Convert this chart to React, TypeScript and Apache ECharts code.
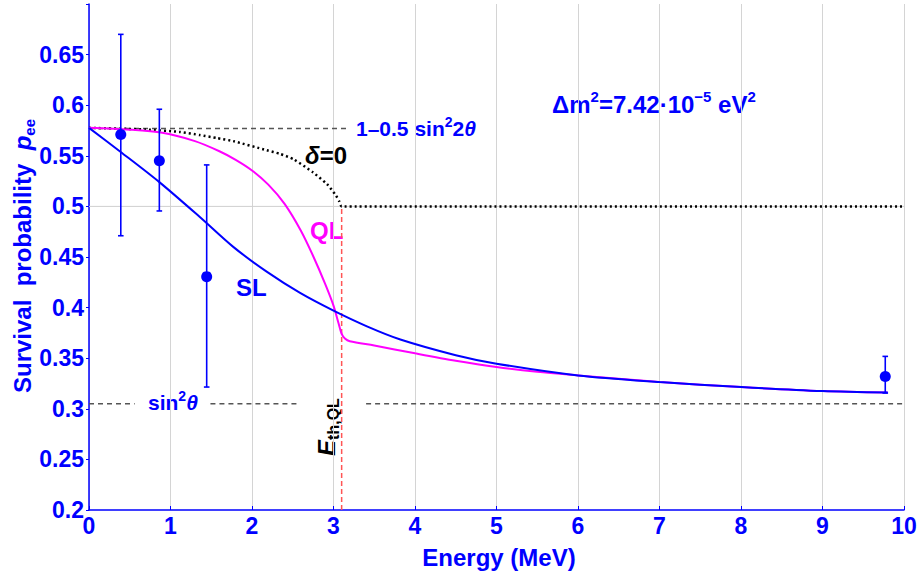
import React, { useEffect, useRef } from "react";
import * as echarts from "echarts";

// ---- data ----
const slE = [0, 0.389, 0.863, 1.36, 1.77, 2.18, 2.59, 3.0, 3.41, 3.82, 4.5, 5.0, 6.0, 7.0, 8.0, 9.0, 9.8];
const slP = [0.5776, 0.5538, 0.524, 0.4895, 0.46, 0.4355, 0.4145, 0.397, 0.3815, 0.3685, 0.353, 0.3446, 0.333, 0.3265, 0.3215, 0.3175, 0.316];

const qlE = [0, 0.5, 0.9, 1.3, 1.6, 1.8, 2.0, 2.2, 2.4, 2.6, 2.75, 2.9, 3.0, 3.06, 3.1, 3.14, 3.2, 3.5, 4.0, 4.5, 5.0, 5.5, 6.0, 7.0, 8.0, 9.0, 9.8];
const qlP = [0.5776, 0.5758, 0.5727, 0.5645, 0.5545, 0.546, 0.5355, 0.5215, 0.5025, 0.476, 0.451, 0.423, 0.402, 0.385, 0.374, 0.3695, 0.3668, 0.3625, 0.3548, 0.3475, 0.3413, 0.3365, 0.333, 0.3265, 0.3215, 0.3175, 0.316];

const d0E = [0, 0.7, 1.12, 1.36, 1.57, 1.77, 2.18, 2.34, 2.51, 2.75, 2.92, 3.02, 3.07, 3.1, 10];
const d0P = [0.5776, 0.576, 0.5735, 0.5705, 0.5675, 0.5645, 0.5555, 0.552, 0.5466, 0.5335, 0.522, 0.512, 0.505, 0.5, 0.5];

const ptE = [0.39, 0.863, 1.444, 9.77];
const ptP = [0.571, 0.545, 0.4306, 0.332];
const ptLo = [0.471, 0.4955, 0.3215, 0.3156];
const ptHi = [0.67, 0.596, 0.541, 0.3518];

const upperLevel = 0.577; // 1-0.5 sin^2 2θ
const upperSpan = [0, 3.2];
const lowerLevel = 0.305; // sin^2 θ
const lowerSpans = [[0, 0.56], [1.49, 2.56], [3.4, 10]];
const eth = 3.1;
const midLevel = 0.5;

const xTicks = [0, 10, 1];
const yTicks = [0.2, 0.7, 0.05];

const BLUE = "#0000ff";
const MAG = "#ff00ff";
const FONT = "'Liberation Sans', Arial, sans-serif";

const pairs = (xs: number[], ys: number[]) => xs.map((x, i) => [x, ys[i]]);

export default function App() {
  const ref = useRef<HTMLDivElement>(null);
  useEffect(() => {
    if (!ref.current) return;
    const chart = echarts.init(ref.current, null, { renderer: "svg" });
    const gray = { color: "#555555", width: 1.5, type: [5, 4] as any };
    const series: any[] = [
      {
        type: "line", data: [[0, midLevel], [10, midLevel]], symbol: "none", silent: true,
        lineStyle: { color: "#cfcfcf", width: 1 }, z: 1,
      },
      {
        type: "line", data: upperSpan.map((x) => [x, upperLevel]), symbol: "none", silent: true,
        lineStyle: gray, z: 2,
      },
      ...lowerSpans.map((s) => ({
        type: "line", data: s.map((x) => [x, lowerLevel]), symbol: "none", silent: true,
        lineStyle: gray, z: 2,
      })),
      {
        type: "line", data: [[eth, yTicks[0]], [eth, midLevel]], symbol: "none", silent: true,
        lineStyle: { color: "#ff5555", width: 1.5, type: [5, 3] }, z: 2,
      },
      {
        type: "line", data: pairs(d0E, d0P), symbol: "none", silent: true, smooth: 0.2,
        lineStyle: { color: "#000000", width: 2.5, type: [2, 3] }, z: 3,
      },
      {
        type: "line", data: pairs(qlE, qlP), symbol: "none", silent: true, smooth: 0.3,
        lineStyle: { color: MAG, width: 2 }, z: 4,
      },
      {
        type: "line", data: pairs(slE, slP), symbol: "none", silent: true, smooth: 0.3,
        lineStyle: { color: BLUE, width: 2 }, z: 5,
      },
      {
        type: "custom",
        data: ptE.map((x, i) => [x, ptLo[i], ptHi[i]]),
        encode: { x: 0, y: [1, 2] },
        z: 6,
        silent: true,
        renderItem: (params: any, api: any) => {
          const x = api.value(0);
          const lo = api.coord([x, api.value(1)]);
          const hi = api.coord([x, api.value(2)]);
          const st = { stroke: BLUE, lineWidth: 1.6 };
          const c = 2.8;
          return {
            type: "group",
            children: [
              { type: "line", shape: { x1: lo[0], y1: lo[1], x2: hi[0], y2: hi[1] }, style: st },
              { type: "line", shape: { x1: lo[0] - c, y1: lo[1], x2: lo[0] + c, y2: lo[1] }, style: st },
              { type: "line", shape: { x1: hi[0] - c, y1: hi[1], x2: hi[0] + c, y2: hi[1] }, style: st },
            ],
          };
        },
      },
      {
        type: "scatter", data: pairs(ptE, ptP), symbol: "circle", symbolSize: 11, silent: true,
        itemStyle: { color: BLUE, opacity: 1 }, z: 7,
      },
    ];

    const tickLabel = { color: BLUE, fontFamily: FONT, fontWeight: "bold" as const, fontSize: 23 };

    chart.setOption({
      animation: false,
      grid: { left: 89, right: 16, top: 4, bottom: 67, containLabel: false },
      xAxis: {
        type: "value", min: xTicks[0], max: xTicks[1], interval: xTicks[2],
        axisLine: { lineStyle: { color: BLUE, width: 1.5 } },
        axisTick: { show: true, inside: true, length: 4, lineStyle: { color: BLUE } },
        axisLabel: { ...tickLabel, margin: 4 },
        splitLine: { show: true, lineStyle: { color: "#d4d4d4", width: 1 } },
      },
      yAxis: {
        type: "value", min: yTicks[0], max: yTicks[1], interval: yTicks[2],
        axisLine: { show: true, lineStyle: { color: BLUE, width: 1.5 } },
        axisTick: { show: true, inside: false, length: 3, lineStyle: { color: BLUE } },
        axisLabel: {
          ...tickLabel, margin: 5,
          formatter: (v: number) => (Math.abs(v - yTicks[1]) < 1e-9 ? "" : String(+v.toFixed(2))),
        },
        splitLine: { show: false },
      },
      series,
      graphic: [
        {
          type: "text", x: 22, y: 256, rotation: Math.PI / 2,
          style: {
            text: "{m|Survival  probability  }{i|p}{s|ee}",
            align: "center", verticalAlign: "middle",
            rich: {
              m: { fill: BLUE, color: BLUE, fontFamily: FONT, fontWeight: "bold", fontSize: 24, lineHeight: 30 },
              i: { fill: BLUE, color: BLUE, fontFamily: FONT, fontWeight: "bold", fontStyle: "italic", fontSize: 24, lineHeight: 30 },
              s: { fill: BLUE, color: BLUE, fontFamily: FONT, fontWeight: "bold", fontSize: 15, lineHeight: 15, verticalAlign: "bottom" },
            },
          },
        },
        {
          type: "text", x: 499, y: 557,
          style: {
            text: "Energy (MeV)", fill: BLUE, font: `bold 24px ${FONT}`,
            align: "center", verticalAlign: "middle",
          },
        },
        {
          type: "text", x: 356, y: 128,
          style: {
            text: "{m|1–0.5 sin}{s|2}{m|2}{i|θ}",
            align: "left", verticalAlign: "middle",
            rich: {
              m: { fill: BLUE, color: BLUE, fontFamily: FONT, fontWeight: "bold", fontSize: 21, lineHeight: 26 },
              i: { fill: BLUE, color: BLUE, fontFamily: FONT, fontWeight: "bold", fontStyle: "italic", fontSize: 21, lineHeight: 26 },
              s: { fill: BLUE, color: BLUE, fontFamily: FONT, fontWeight: "bold", fontSize: 14, lineHeight: 14, verticalAlign: "top" },
            },
          },
        },
        {
          type: "text", x: 305, y: 155,
          style: {
            text: "{i|δ}{m|=0}",
            align: "left", verticalAlign: "middle",
            rich: {
              m: { fill: "#000", color: "#000", fontFamily: FONT, fontWeight: "bold", fontSize: 24, lineHeight: 28 },
              i: { fill: "#000", color: "#000", fontFamily: FONT, fontWeight: "bold", fontStyle: "italic", fontSize: 24, lineHeight: 28 },
            },
          },
        },
        {
          type: "text", x: 310, y: 230,
          style: { text: "QL", fill: MAG, font: `bold 24px ${FONT}`, align: "left", verticalAlign: "middle" },
        },
        {
          type: "text", x: 236, y: 287,
          style: { text: "SL", fill: BLUE, font: `bold 24px ${FONT}`, align: "left", verticalAlign: "middle" },
        },
        {
          type: "text", x: 552, y: 104,
          style: {
            text: "{m|Δm}{s|2}{m|=7.42·10}{s|−5}{m| eV}{s|2}",
            align: "left", verticalAlign: "middle",
            rich: {
              m: { fill: BLUE, color: BLUE, fontFamily: FONT, fontWeight: "bold", fontSize: 24, lineHeight: 30 },
              s: { fill: BLUE, color: BLUE, fontFamily: FONT, fontWeight: "bold", fontSize: 15, lineHeight: 15, verticalAlign: "top" },
            },
          },
        },
        {
          type: "text", x: 148, y: 402,
          style: {
            text: "{m|sin}{s|2}{i|θ}",
            align: "left", verticalAlign: "middle",
            rich: {
              m: { fill: BLUE, color: BLUE, fontFamily: FONT, fontWeight: "bold", fontSize: 21, lineHeight: 26 },
              i: { fill: BLUE, color: BLUE, fontFamily: FONT, fontWeight: "bold", fontStyle: "italic", fontSize: 21, lineHeight: 26 },
              s: { fill: BLUE, color: BLUE, fontFamily: FONT, fontWeight: "bold", fontSize: 14, lineHeight: 14, verticalAlign: "top" },
            },
          },
        },
        {
          type: "text", x: 326, y: 427, rotation: Math.PI / 2,
          style: {
            text: "{i|E}{s|th,QL}",
            align: "center", verticalAlign: "middle",
            rich: {
              i: { fill: "#000", color: "#000", fontFamily: FONT, fontWeight: "bold", fontStyle: "italic", fontSize: 24, lineHeight: 30 },
              s: { fill: "#000", color: "#000", fontFamily: FONT, fontWeight: "bold", fontSize: 16, lineHeight: 16, verticalAlign: "bottom" },
            },
          },
        },
      ],
    });
    return () => chart.dispose();
  }, []);
  return (
    <div
      ref={ref}
      style={{ position: "fixed", left: 0, top: 0, width: 920, height: 577, background: "#fff" }}
    />
  );
}
